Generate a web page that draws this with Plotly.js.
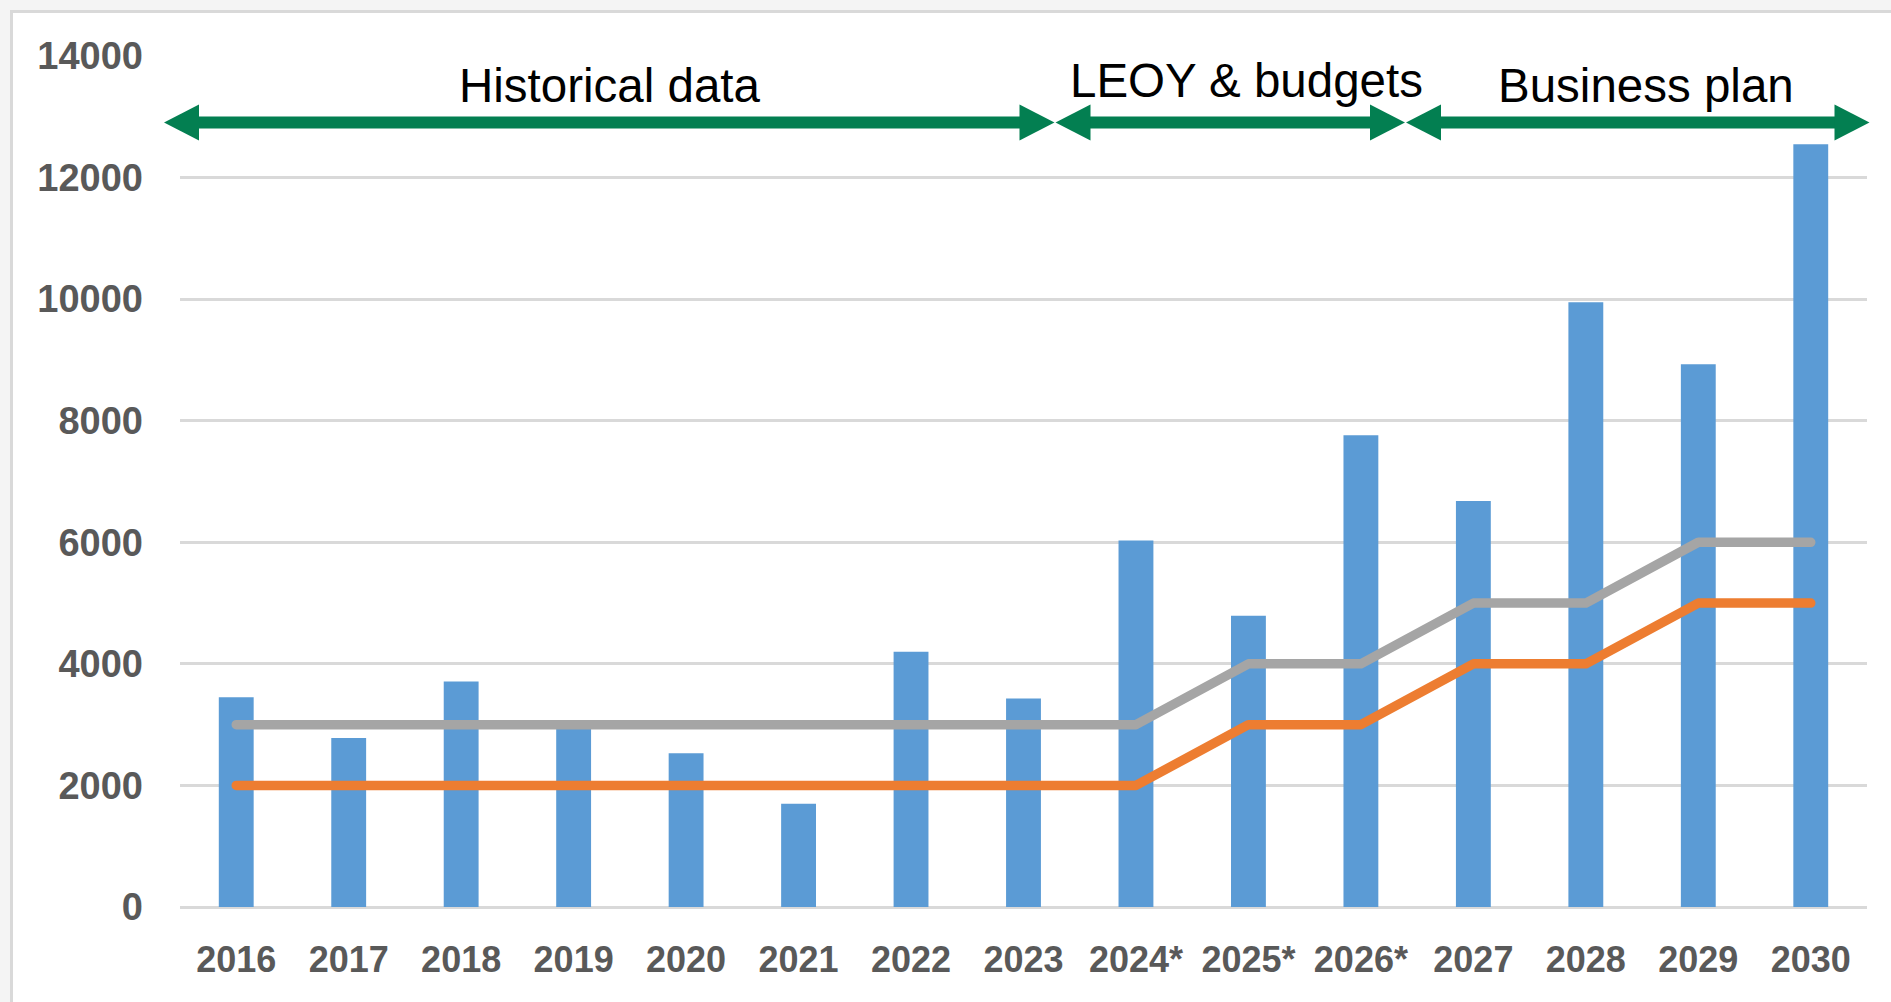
<!DOCTYPE html>
<html>
<head>
<meta charset="utf-8">
<script src="https://cdn.plot.ly/plotly-3.0.1.min.js"></script>
<style>
  html, body { margin: 0; padding: 0; background: #f4f4f4; width: 1891px; height: 1002px; overflow: hidden; }
  #frame { position: absolute; left: 10px; top: 10px; right: 0; bottom: 0; background: #ffffff;
           border-left: 3px solid #d9d9d9; border-top: 3px solid #d9d9d9; }
  #chart { position: absolute; left: 0; top: 0; width: 1891px; height: 1002px; }
  .js-line { stroke-linecap: round !important; stroke-linejoin: round !important; }
</style>
</head>
<body>
<div id="frame"></div>
<div id="chart"></div>
<script>
// ---- data ----
const categories = ['2016','2017','2018','2019','2020','2021','2022','2023','2024*','2025*','2026*','2027','2028','2029','2030'];
const barValues   = [3450, 2780, 3710, 2950, 2530, 1700, 4200, 3430, 6030, 4790, 7760, 6680, 9950, 8930, 12550];
const greyLine    = [3000, 3000, 3000, 3000, 3000, 3000, 3000, 3000, 3000, 4000, 4000, 5000, 5000, 6000, 6000];
const orangeLine  = [2000, 2000, 2000, 2000, 2000, 2000, 2000, 2000, 2000, 3000, 3000, 4000, 4000, 5000, 5000];
const yTicks      = [0, 2000, 4000, 6000, 8000, 10000, 12000, 14000];
const periodLabels = ['Historical data', 'LEOY & budgets', 'Business plan'];

// ---- layout geometry ----
const W = 1891, H = 1002;
const M = { l: 180, r: 24, t: 56, b: 95 };
const PW = W - M.l - M.r, PH = H - M.t - M.b;
const px2x = px => (px - M.l) / PW;
const px2y = py => (H - M.b - py) / PH;

const green = '#037f51';
const xTickFont = { family: 'Liberation Sans, Arial, sans-serif', size: 36, color: '#595959', weight: 'bold' };
const yTickFont = { family: 'Liberation Sans, Arial, sans-serif', size: 38, color: '#595959', weight: 'bold' };

// period arrows (pixel spans) and label centres
const arrowSpans = [[164, 1054.5], [1055.5, 1405], [1406, 1869.5]];
const arrowY = 122.5, headLen = 35, headHalf = 18, shaftW = 12;
const labelPos = [[610, 85], [1246, 81], [1646, 85]];

const shapes = [];
arrowSpans.forEach(([a, b]) => {
  shapes.push({ type: 'line', xref: 'paper', yref: 'paper',
    x0: px2x(a + headLen - 4), x1: px2x(b - headLen + 4), y0: px2y(arrowY), y1: px2y(arrowY),
    line: { color: green, width: shaftW } });
  shapes.push({ type: 'path', xref: 'paper', yref: 'paper', fillcolor: green, line: { width: 0 },
    path: `M${px2x(a)},${px2y(arrowY)} L${px2x(a + headLen)},${px2y(arrowY - headHalf)} L${px2x(a + headLen)},${px2y(arrowY + headHalf)} Z` });
  shapes.push({ type: 'path', xref: 'paper', yref: 'paper', fillcolor: green, line: { width: 0 },
    path: `M${px2x(b)},${px2y(arrowY)} L${px2x(b - headLen)},${px2y(arrowY - headHalf)} L${px2x(b - headLen)},${px2y(arrowY + headHalf)} Z` });
});

const annotations = periodLabels.map((t, i) => ({
  text: t, xref: 'paper', yref: 'paper', x: px2x(labelPos[i][0]), y: px2y(labelPos[i][1]),
  xanchor: 'center', yanchor: 'middle', showarrow: false,
  font: { family: 'Liberation Sans, Arial, sans-serif', size: 47.5, color: '#000000' }
}));

const traces = [
  { type: 'bar', x: categories, y: barValues, marker: { color: '#5b9bd5' }, hoverinfo: 'skip' },
  { type: 'scatter', mode: 'lines', x: categories, y: greyLine, line: { color: '#a5a5a5', width: 9.5 }, hoverinfo: 'skip' },
  { type: 'scatter', mode: 'lines', x: categories, y: orangeLine, line: { color: '#ed7d31', width: 9.5 }, hoverinfo: 'skip' }
];

const layout = {
  width: W, height: H, margin: M,
  paper_bgcolor: 'rgba(0,0,0,0)', plot_bgcolor: 'rgba(0,0,0,0)',
  showlegend: false, bargap: 0.69,
  xaxis: { type: 'category', tickfont: xTickFont, ticks: '', ticklabelstandoff: 28,
           showgrid: false, showline: false, zeroline: false, fixedrange: true },
  yaxis: { range: [0, 14000], tickvals: yTicks, ticktext: yTicks.map(String), tickfont: yTickFont,
           ticks: '', ticklabelstandoff: 36, showgrid: true, gridcolor: '#d9d9d9', gridwidth: 3,
           zeroline: true, zerolinecolor: '#d9d9d9', zerolinewidth: 3, showline: false, fixedrange: true },
  shapes: shapes, annotations: annotations
};

Plotly.newPlot('chart', traces, layout, { displayModeBar: false, staticPlot: true });
</script>
</body>
</html>
